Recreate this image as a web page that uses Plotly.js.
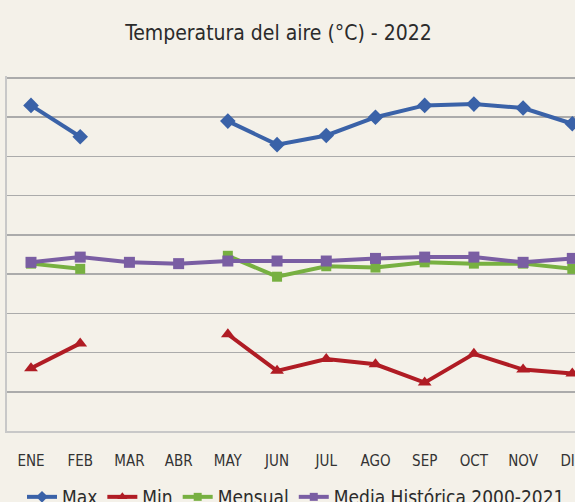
<!DOCTYPE html>
<html>
<head>
<meta charset="utf-8">
<script src="https://cdn.plot.ly/plotly-3.0.1.min.js"></script>
<style>html,body{margin:0;padding:0;background:#F4F1E9;overflow:hidden}</style>
</head>
<body>
<div id="chart" style="width:575px;height:502px"></div>
<script>
const months = ["ENE","FEB","MAR","ABR","MAY","JUN","JUL","AGO","SEP","OCT","NOV","DIC"];
const maxTemp = [32.9, 30.5, null, null, 31.7, 29.9, 30.6, 32.0, 32.9, 33.0, 32.7, 31.5];
const minTemp = [12.8, 14.7, null, null, 15.4, 12.6, 13.5, 13.1, 11.7, 13.9, 12.7, 12.4];
const mensual = [20.8, 20.4, null, null, 21.4, 19.8, 20.6, 20.5, 20.9, 20.8, 20.8, 20.4];
const mediaHist = [20.9, 21.3, 20.9, 20.8, 21.0, 21.0, 21.0, 21.2, 21.3, 21.3, 20.9, 21.2];

const FONT = "DejaVu Sans Condensed, Liberation Sans Narrow, sans-serif";

const series = [
  {name: "Max", y: maxTemp, color: "#3A62A8", symbol: "diamond", size: 12, lsize: 9},
  {name: "Min", y: minTemp, color: "#B01C24", symbol: "triangle-up", size: 12, lsize: 9},
  {name: "Mensual", y: mensual, color: "#77B041", symbol: "square", size: 10, lsize: 8},
  {name: "Media Histórica 2000-2021", y: mediaHist, color: "#7A5EA3", symbol: "square", size: 11, lsize: 8}
];
const data = [];
series.forEach(s => {
  data.push({
    x: months, y: s.y, name: s.name, type: "scatter", mode: "lines+markers",
    connectgaps: false, cliponaxis: false, showlegend: false,
    line: {color: s.color, width: 4},
    marker: {color: s.color, symbol: s.symbol, size: s.size}
  });
});
series.forEach(s => {
  data.push({
    x: [null], y: [null], name: s.name, type: "scatter", mode: "lines+markers",
    showlegend: true, hoverinfo: "skip",
    line: {color: s.color, width: 4},
    marker: {color: s.color, symbol: s.symbol, size: s.lsize}
  });
});

const step = 49.21;
const r0 = -24 / step;
const r1 = r0 + 568 / step;

const layout = {
  width: 575, height: 502,
  paper_bgcolor: "#F4F1E9", plot_bgcolor: "#F4F1E9",
  margin: {l: 7, r: 0, t: 76, b: 71},
  font: {family: FONT, color: "#333333"},
  title: {text: "Temperatura del aire (°C) - 2022", font: {family: FONT, size: 21, color: "#2B2B2B"},
          x: 0.4843, xref: "container", xanchor: "center", y: 1 - 33/502, yref: "container", yanchor: "middle"},
  showlegend: true,
  legend: {orientation: "h", x: (22-7)/568, xanchor: "left", y: 1 - 497/502, yref: "container", yanchor: "middle",
           font: {family: FONT, size: 19, color: "#2B2B2B"}, bgcolor: "rgba(0,0,0,0)", tracegroupgap: 0, borderwidth: 0},
  xaxis: {type: "category", categoryarray: months, range: [r0, r1], showgrid: false, zeroline: false,
          showline: true, linecolor: "#C8C8C8", linewidth: 2, ticks: "", automargin: false,
          tickfont: {family: FONT, size: 15, color: "#333333"}, ticklabelstandoff: 15, ticklabelshift: 3.5},
  yaxis: {range: [8, 35.15], tick0: 8, dtick: 3, showgrid: true, gridcolor: "#ABABAB", gridwidth: 1.5,
          showticklabels: false, ticks: "", zeroline: false, showline: true, linecolor: "#C8C8C8", linewidth: 2,
          automargin: false}
};
Plotly.newPlot("chart", data, layout, {displayModeBar: false, staticPlot: true});
</script>
</body>
</html>
